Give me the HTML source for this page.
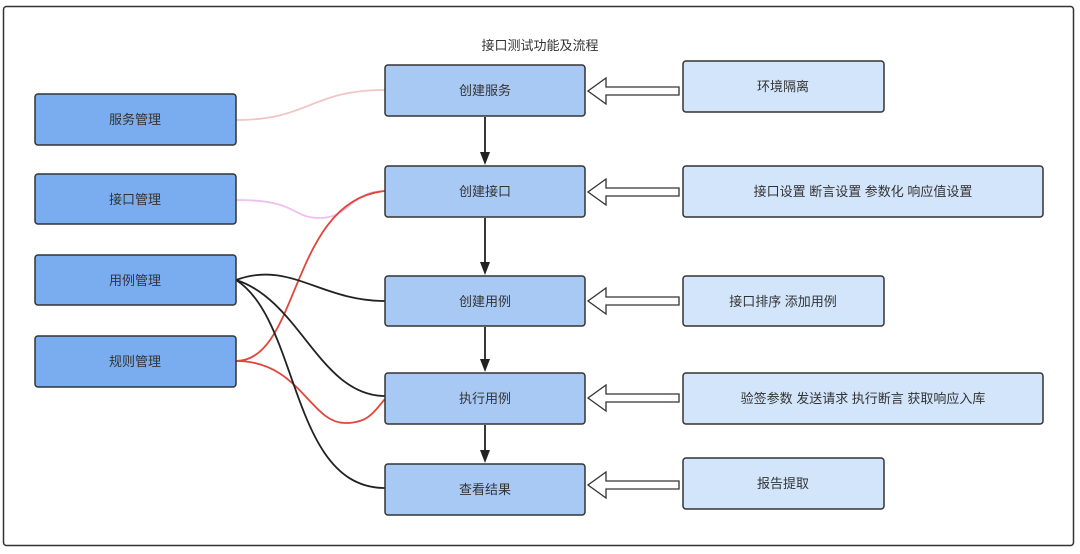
<!DOCTYPE html>
<html><head><meta charset="utf-8"><style>
body{margin:0;background:#fff;width:1080px;height:549px;overflow:hidden;font-family:"Liberation Sans","Noto Sans CJK SC",sans-serif;}
</style></head><body>
<svg width="1080" height="549" xmlns="http://www.w3.org/2000/svg" font-family="Liberation Sans, Noto Sans CJK SC, sans-serif">
<rect x="3.5" y="6.5" width="1070" height="539" rx="3" fill="#fff" stroke="#333" stroke-width="1.5"/>
<text x="540" y="50" font-size="13" fill="#333" text-anchor="middle">接口测试功能及流程</text>
<g fill="none" stroke-width="1.8">
<path d="M236,120 C310,120 310,90 385,90" stroke="#f2c4c4"/>
<path d="M236,200 C300,200 290,218 320,218 C350,218 350,191 385,191" stroke="#edc0ee"/>
<path d="M236,361 C300,361 290,200 385,191" stroke="#e0463a"/>
<path d="M236,361 C300,361 310,423 345,423 C370,423 375,410 385,399" stroke="#e0463a"/>
<path d="M236,280 C290,260 320,301 385,301" stroke="#222"/>
<path d="M236,280 C300,300 320,396 385,396" stroke="#222"/>
<path d="M236,280 C300,320 290,488 385,488" stroke="#222"/>
</g>
<g fill="#7aadf0" stroke="#333" stroke-width="1.5">
<rect x="35" y="94" width="201" height="51" rx="3"/>
<rect x="35" y="174" width="201" height="50" rx="3"/>
<rect x="35" y="255" width="201" height="50" rx="3"/>
<rect x="35" y="336" width="201" height="51" rx="3"/>
</g>
<g fill="#a9c9f5" stroke="#333" stroke-width="1.5">
<rect x="385" y="65" width="200" height="51" rx="3"/>
<rect x="385" y="166" width="200" height="51" rx="3"/>
<rect x="385" y="276" width="200" height="50" rx="3"/>
<rect x="385" y="373" width="200" height="51" rx="3"/>
<rect x="385" y="464" width="200" height="51" rx="3"/>
</g>
<g fill="#d3e5fb" stroke="#333" stroke-width="1.5">
<rect x="683" y="61" width="201" height="51" rx="3"/>
<rect x="683" y="166" width="360" height="51" rx="3"/>
<rect x="683" y="276" width="201" height="50" rx="3"/>
<rect x="683" y="373" width="360" height="51" rx="3"/>
<rect x="683" y="458" width="201" height="51" rx="3"/>
</g>
<g stroke="#222" stroke-width="1.8" fill="#222">
<line x1="485" y1="117" x2="485" y2="155"/><polygon points="480,152 490,152 485,165" stroke="none"/>
<line x1="485" y1="218" x2="485" y2="265"/><polygon points="480,262 490,262 485,275" stroke="none"/>
<line x1="485" y1="327" x2="485" y2="362"/><polygon points="480,359 490,359 485,372" stroke="none"/>
<line x1="485" y1="425" x2="485" y2="453"/><polygon points="480,450 490,450 485,463" stroke="none"/>
</g>
<g fill="#fff" stroke="#333" stroke-width="1.3">
<polygon points="679,87 606,87 606,78 588,91 606,104 606,95 679,95"/>
<polygon points="679,188 606,188 606,179 588,192 606,205 606,196 679,196"/>
<polygon points="679,297 606,297 606,288 588,301 606,314 606,305 679,305"/>
<polygon points="679,394 606,394 606,385 588,398 606,411 606,402 679,402"/>
<polygon points="679,481 606,481 606,472 588,485 606,498 606,489 679,489"/>
</g>
<g font-size="13" fill="#333" text-anchor="middle">
<text x="135" y="124">服务管理</text>
<text x="135" y="204">接口管理</text>
<text x="135" y="285">用例管理</text>
<text x="135" y="366">规则管理</text>
<text x="485" y="95">创建服务</text>
<text x="485" y="196">创建接口</text>
<text x="485" y="306">创建用例</text>
<text x="485" y="403">执行用例</text>
<text x="485" y="494">查看结果</text>
<text x="783" y="91">环境隔离</text>
<text x="863" y="196">接口设置 断言设置 参数化 响应值设置</text>
<text x="783" y="306">接口排序 添加用例</text>
<text x="863" y="403">验签参数 发送请求 执行断言 获取响应入库</text>
<text x="783" y="488">报告提取</text>
</g>
</svg>
</body></html>
